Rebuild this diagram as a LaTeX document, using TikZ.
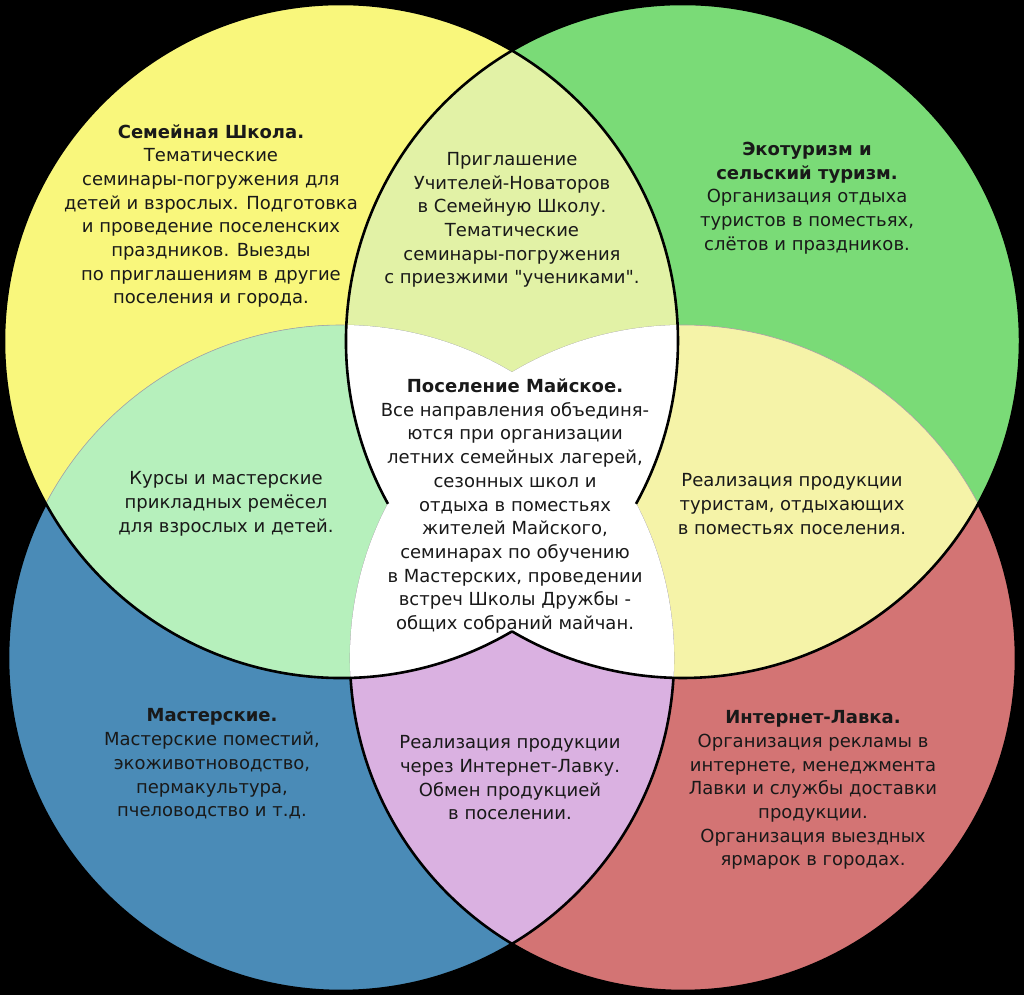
\documentclass[tikz,border=0pt]{standalone}
\usepackage{fontspec}
\setmainfont{DejaVu Sans}[Ligatures = TeXOff]

\definecolor{famY}{RGB}{249,247,124}
\definecolor{ecoG}{RGB}{122,219,119}
\definecolor{workB}{RGB}{74,139,183}
\definecolor{shopR}{RGB}{211,116,116}
\definecolor{lensT}{RGB}{226,242,166}
\definecolor{lensL}{RGB}{182,240,188}
\definecolor{lensR}{RGB}{245,243,168}
\definecolor{lensB}{RGB}{218,177,225}

\tikzset{
    txt/.style = {align = center, text = black!90, font = \fontsize{18}{23.7}\selectfont},
    rim/.style = {line width = 2.6pt},
}

% the four circles
\newcommand{\cY}{(y) circle [radius = 337]}
\newcommand{\cG}{(g) circle [radius = 337]}
\newcommand{\cB}{(b) circle [radius = 333]}
\newcommand{\cR}{(r) circle [radius = 333]}

\begin{document}
\begin{tikzpicture}[x = 1pt, y = -1pt]
    \useasboundingbox (0,0) rectangle (1024,995);
    \fill [black] (0,0) rectangle (1024,995);
    \coordinate (y) at (341,341);
    \coordinate (g) at (683,341);
    \coordinate (b) at (341,658);
    \coordinate (r) at (683,658);
    % strong fills
    \fill [famY] \cY;
    \fill [ecoG] \cG;
    \fill [workB] \cB;
    \fill [shopR] \cR;
    % pairs
    \begin{scope} \clip \cY; \fill [lensT] \cG; \fill [lensL] \cB; \end{scope}
    \begin{scope} \clip \cR; \fill [lensR] \cG; \fill [lensB] \cB; \end{scope}
    \draw [black!35, line width = 0.6pt] \cB \cR;
    % three or four circles: white
    \begin{scope} \clip \cY; \clip \cG; \fill [white] \cB; \fill [white] \cR; \end{scope}
    \begin{scope} \clip \cB; \clip \cR; \fill [white] \cY; \fill [white] \cG; \end{scope}
    % black rims
    \begin{scope}[even odd rule]
        \clip (0,0) rectangle (1024,995) \cY;
        \clip (0,0) rectangle (1024,995) \cG;
        \draw [rim] \cB \cR;
    \end{scope}
    \draw [rim] (y) ++(59.5:337) arc [start angle = 59.5, end angle = 388.9, radius = 337];
    \draw [rim] (g) ++(151.1:337) arc [start angle = 151.1, end angle = 480.5, radius = 337];
    % texts
    \node [txt] (school) at (211,216) {\textbf{Семейная Школа.}\\Тематические\\семинары-погружения для\\детей и взрослых. Подготовка\\и проведение поселенских\\праздников. Выезды\\по приглашениям в другие\\поселения и города.};
    \node [txt] (invite) at (512,220) {Приглашение\\Учителей-Новаторов\\в Семейную Школу.\\Тематические\\семинары-погружения\\с приезжими "учениками".};
    \node [txt] (tourism) at (807,198) {\textbf{Экотуризм и}\\\textbf{сельский туризм.}\\Организация отдыха\\туристов в поместьях,\\слётов и праздников.};
    \node [txt] (crafts) at (226,504) {Курсы и мастерские\\прикладных ремёсел\\для взрослых и детей.};
    \node [txt] (village) at (515,506) {\textbf{Поселение Майское.}\\Все направления объединя-\\ются при организации\\летних семейных лагерей,\\сезонных школ и\\отдыха в поместьях\\жителей Майского,\\семинарах по обучению\\в Мастерских, проведении\\встреч Школы Дружбы -\\общих собраний майчан.};
    \node [txt] (guests) at (792,504) {Реализация продукции\\туристам, отдыхающих\\в поместьях поселения.};
    \node [txt] (workshops) at (212,764) {\textbf{Мастерские.}\\Мастерские поместий,\\экоживотноводство,\\пермакультура,\\пчеловодство и т.д.};
    \node [txt] (exchange) at (510,778) {Реализация продукции\\через Интернет-Лавку.\\Обмен продукцией\\в поселении.};
    \node [txt] (shop) at (813,790) {\textbf{Интернет-Лавка.}\\Организация рекламы в\\интернете, менеджмента\\Лавки и службы доставки\\продукции.\\Организация выездных\\ярмарок в городах.};
\end{tikzpicture}
\end{document}
